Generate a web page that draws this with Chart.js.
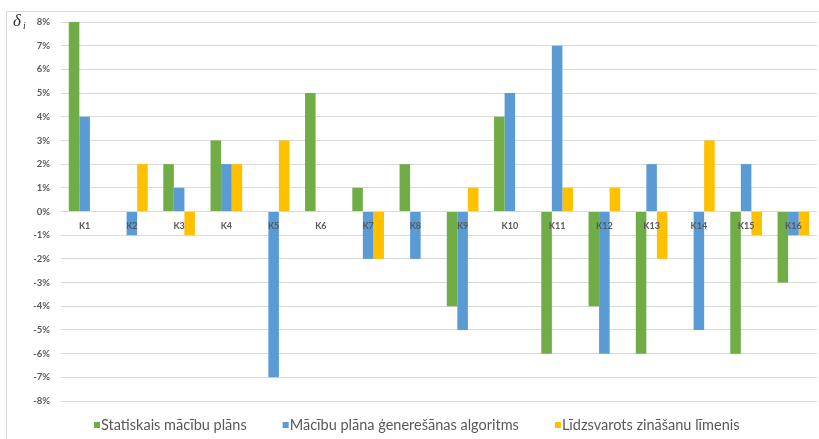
<!DOCTYPE html>
<html>
<head>
<meta charset="utf-8">
<script src="https://cdn.jsdelivr.net/npm/chart.js@4/dist/chart.umd.min.js"></script>
<style>
  html, body { margin: 0; padding: 0; background: #ffffff; }
  canvas { display: block; }
</style>
</head>
<body>
<canvas id="chart" width="819" height="439"></canvas>
<script>
// Criteria K1..K16 and deviation δi (percent) for each approach
const categories = ['K1','K2','K3','K4','K5','K6','K7','K8','K9','K10','K11','K12','K13','K14','K15','K16'];
const seriesNames = ['Statiskais mācību plāns', 'Mācību plāna ģenerešānas algoritms', 'Līdzsvarots zināšanu līmenis'];
const staticPlan    = [8, 0, 2, 3, 0, 5, 1, 2, -4, 4, -6, -4, -6, 0, -6, -3];
const generatedPlan = [4, -1, 1, 2, -7, 0, -2, -2, -5, 5, 7, -6, 2, -5, 2, -1];
const balancedLevel = [0, 2, -1, 2, 3, 0, -2, 0, 1, 0, 1, 1, -2, 3, -1, -1];
const yTicks = [-8, -7, -6, -5, -4, -3, -2, -1, 0, 1, 2, 3, 4, 5, 6, 7, 8];

const colors = ['#70ad47', '#5b9bd5', '#ffc000'];
const seriesValues = [staticPlan, generatedPlan, balancedLevel];

// White page with the thin grey frame around the chart, and the δi axis symbol
const framePlugin = {
  id: 'frame',
  beforeDraw(chart) {
    const ctx = chart.ctx;
    ctx.save();
    ctx.fillStyle = '#ffffff';
    ctx.fillRect(0, 0, chart.width, chart.height);
    ctx.strokeStyle = '#d9d9d9';
    ctx.lineWidth = 1;
    ctx.beginPath();
    ctx.moveTo(6.5, chart.height);
    ctx.lineTo(6.5, 11.5);
    ctx.lineTo(chart.width, 11.5);
    ctx.stroke();
    ctx.restore();
  },
  afterDraw(chart) {
    const ctx = chart.ctx;
    ctx.save();
    ctx.fillStyle = '#333333';
    ctx.textBaseline = 'alphabetic';
    ctx.font = 'italic 17px "Liberation Serif"';
    ctx.fillText('δ', 13, 26);
    ctx.font = 'italic 10px "Liberation Serif"';
    ctx.fillText('i', 23, 29);
    ctx.restore();
  }
};

// Single-row legend under the plot: small square swatch, then the series name
const bottomLegend = {
  id: 'bottomLegend',
  afterDraw(chart) {
    const ctx = chart.ctx;
    const y = 425;
    let x = 94;
    ctx.save();
    ctx.font = '14.5px Lato';
    ctx.textBaseline = 'middle';
    chart.data.datasets.forEach((ds) => {
      ctx.fillStyle = ds.backgroundColor;
      ctx.fillRect(x, y - 3, 6, 6);
      ctx.fillStyle = '#595959';
      ctx.fillText(ds.label, x + 7, y);
      x += 7 + ctx.measureText(ds.label).width + 36;
    });
    ctx.restore();
  }
};

new Chart(document.getElementById('chart'), {
  type: 'bar',
  data: {
    labels: categories,
    datasets: seriesNames.map((name, i) => ({
      label: name,
      data: seriesValues[i],
      backgroundColor: colors[i],
      borderWidth: 0,
      categoryPercentage: 0.67,
      barPercentage: 1.0
    }))
  },
  options: {
    responsive: false,
    animation: false,
    devicePixelRatio: 1,
    layout: { padding: { top: 22, right: 2, left: 0, bottom: 38 } },
    plugins: {
      tooltip: { enabled: false },
      legend: { display: false }
    },
    scales: {
      x: {
        position: { y: 0 },
        grid: { display: false, drawTicks: false },
        border: { display: false },
        ticks: {
          z: 1,
          autoSkip: false,
          padding: 9,
          color: '#595959',
          font: { family: 'Lato', size: 9, weight: 'bold' },
          maxRotation: 0
        }
      },
      y: {
        min: -8,
        max: 8,
        afterBuildTicks(scale) { scale.ticks = yTicks.map(v => ({ value: v })); },
        afterFit(scale) { scale.width = 61; },
        grid: { color: '#d9d9d9', lineWidth: 1, drawTicks: false },
        border: { display: false },
        ticks: {
          padding: 11,
          color: '#595959',
          font: { family: 'Lato', size: 9.5, weight: 'bold' },
          callback: (v) => v + '%'
        }
      }
    }
  },
  plugins: [framePlugin, bottomLegend]
});
</script>
</body>
</html>
